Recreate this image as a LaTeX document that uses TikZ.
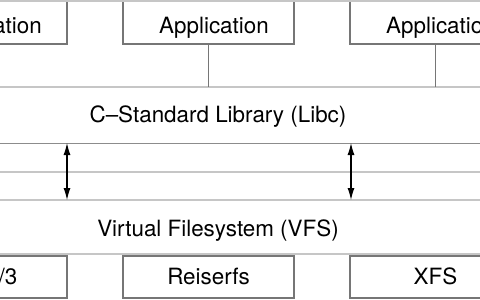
\documentclass[tikz,border=0pt]{standalone}
\usepackage{fontspec}
\setmainfont{TeX Gyre Heros}
\usetikzlibrary{arrows.meta}
\definecolor{boxgray}{HTML}{767676}
\definecolor{layergray}{HTML}{C6C6C6}
\definecolor{sepgray}{HTML}{8C8C8C}
\begin{document}
\begin{tikzpicture}[x=1pt,y=-1pt,
  every node/.style={font=\fontsize{22.4}{26}\selectfont},
  topbox/.style={draw=boxgray,line width=1.5pt,fill=white,inner sep=0pt,
    minimum width=171pt,minimum height=44pt,text height=22pt,text depth=0pt},
  fsbox/.style={draw=boxgray,line width=1.5pt,fill=white,inner sep=0pt,
    minimum width=171pt,minimum height=42pt,text height=14pt,text depth=0pt},
  layerline/.style={draw=layergray,line width=2.5pt},
  sepline/.style={draw=sepgray,line width=1pt},
  link/.style={draw=boxgray,line width=1.2pt},
  dbl/.style={draw=black,line width=1.1pt,{Latex[length=12pt,width=7pt]}-{Latex[length=12pt,width=7pt]}},
  layertext/.style={anchor=base,inner sep=0pt}]
\useasboundingbox (0,0) rectangle (480,300);
\clip (0,0) rectangle (480,300);
% layer lines
\coordinate (l0w) at (-120,1);   \coordinate (l0e) at (600,1);
\coordinate (l1w) at (-120,87);  \coordinate (l1e) at (600,87);
\coordinate (l2w) at (-120,143); \coordinate (l2e) at (600,143);
\coordinate (l3w) at (-120,172); \coordinate (l3e) at (600,172);
\coordinate (l4w) at (-120,200); \coordinate (l4e) at (600,200);
\coordinate (l5w) at (-120,254); \coordinate (l5e) at (600,254);
\draw[layerline] (l1w) -- (l1e);
\draw[sepline]   (l2w) -- (l2e);
\draw[layerline] (l3w) -- (l3e);
\draw[layerline] (l4w) -- (l4e);
\draw[layerline] (l5w) -- (l5e);
% applications
\node[topbox] (app1) at (-18.5,22) {\hspace*{11pt}Application};
\node[topbox] (app2) at (208.5,22) {\hspace*{11pt}Application};
\node[topbox] (app3) at (435.5,22) {\hspace*{11pt}Application};
\draw[layerline] (l0w) -- (l0e);
\draw[link] (app1.south) -- (app1.south |- l1w);
\draw[link] (app2.south) -- (app2.south |- l1w);
\draw[link] (app3.south) -- (app3.south |- l1w);
% layer labels
\node[layertext] (libc) at (218,122) {C--Standard Library (Libc)};
\node[layertext] (vfs) at (218,236) {Virtual Filesystem (VFS)};
% syscall arrows
\coordinate (a1t) at (67,143);  \coordinate (a1b) at (67,200);
\coordinate (a2t) at (351,143); \coordinate (a2b) at (351,200);
\draw[dbl] (a1t) -- (a1b);
\draw[dbl] (a2t) -- (a2b);
% filesystems
\node[fsbox] (ext) at (-18.5,277) {\hspace*{8pt}Ext2/3};
\node[fsbox] (reiser) at (208.5,277) {Reiserfs};
\node[fsbox] (xfs) at (435.5,277) {XFS};
\end{tikzpicture}
\end{document}
